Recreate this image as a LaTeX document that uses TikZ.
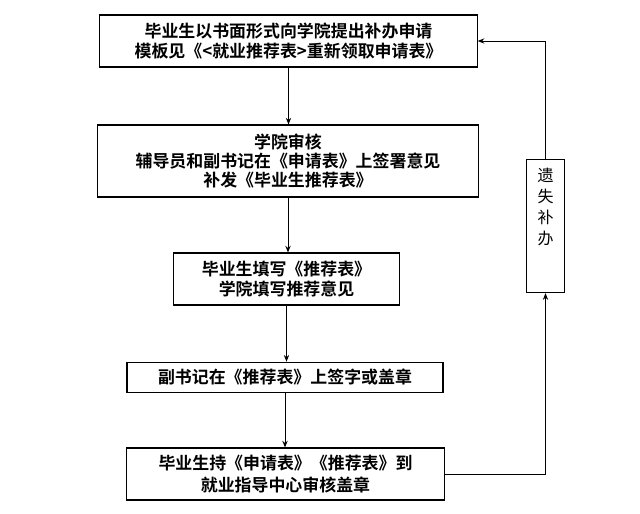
\documentclass[tikz,border=0pt]{standalone}
\usepackage{fontspec}
\newfontfamily\cjkbold{Noto Sans CJK SC Bold}
\newfontfamily\cjk{Noto Sans CJK SC}
\usetikzlibrary{arrows.meta,calc,positioning}

\begin{document}
\begin{tikzpicture}[x=0.75pt,y=-0.75pt,
  stepbox/.style={draw,line width=0.8pt,align=center,inner sep=0pt,
                  font=\cjkbold\fontsize{12.7}{15.5}\selectfont},
  arr/.style={-{Stealth[length=5pt,width=4pt]},line width=0.7pt}]
  \useasboundingbox (0,0) rectangle (640,514);
  \node[stepbox,minimum width=283pt,minimum height=39pt] (apply) at (288.5,41)
    {毕业生以书面形式向学院提出补办申请\\模板见《<就业推荐表>重新领取申请表》};
  \node[stepbox,minimum width=286pt,minimum height=54pt,
        font=\cjkbold\fontsize{12.7}{14}\selectfont] (review) at (288,161)
    {学院审核\\辅导员和副书记在《申请表》上签署意见\\补发《毕业生推荐表》};
  \node[stepbox,minimum width=170pt,minimum height=39pt] (fill) at (286.5,279)
    {毕业生填写《推荐表》\\学院填写推荐意见};
  \node[stepbox,minimum width=237pt,minimum height=23pt] (sign) at (285,377.5)
    {副书记在《推荐表》上签字或盖章};
  \node[stepbox,minimum width=238pt,minimum height=39pt,
        font=\cjkbold\fontsize{12.7}{16.5}\selectfont] (stamp) at (285.5,474)
    {毕业生持《申请表》《推荐表》到\\就业指导中心审核盖章};
  \node[stepbox,minimum width=28pt,minimum height=100pt] (lost) at (545.5,226) {};
  \node[align=center,inner sep=0pt,font=\cjk\fontsize{12}{15.75}\selectfont]
    (losttext) at (545.5,206.5) {遗\\失\\补\\办};
  % main flow
  \draw[arr] (apply.south) -- (apply.south |- review.north);
  \draw[arr] (review.south) -- (review.south |- fill.north);
  \draw[arr] (fill.south) -- (fill.south |- sign.north);
  \draw[arr] (sign.south) -- (sign.south |- stamp.north);
  % loop back
  \draw[arr] (stamp.east) -| (lost.south);
  \draw[arr] (lost.north) |- (apply.east);
\end{tikzpicture}
\end{document}
